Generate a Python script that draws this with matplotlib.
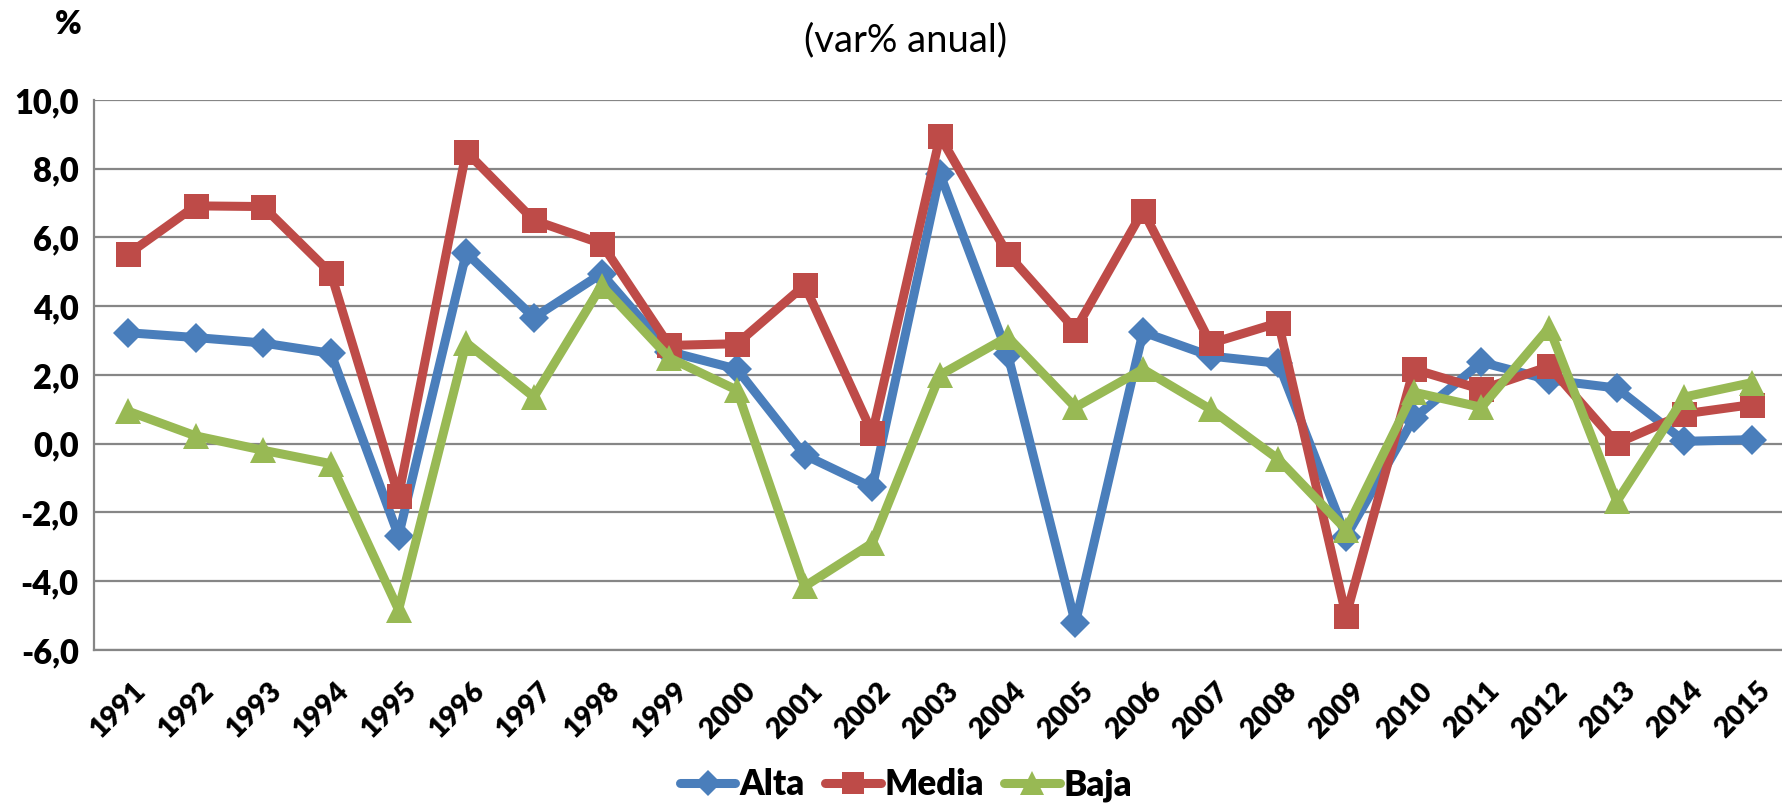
import matplotlib
matplotlib.use("Agg")
import matplotlib.pyplot as plt
import numpy as np

years = [str(y) for y in range(1991, 2016)]
alta = [3.23, 3.09, 2.93, 2.63, -2.68, 5.55, 3.67, 4.95, 2.68, 2.17, -0.33, -1.27,
        7.85, 2.61, -5.22, 3.25, 2.55, 2.34, -2.70, 0.74, 2.37, 1.86, 1.62, 0.07, 0.12]
media = [5.51, 6.92, 6.90, 4.96, -1.52, 8.50, 6.50, 5.82, 2.86, 2.91, 4.61, 0.31,
         8.94, 5.52, 3.31, 6.78, 2.92, 3.52, -5.00, 2.17, 1.58, 2.25, 0.01, 0.87, 1.14]
baja = [0.95, 0.23, -0.19, -0.58, -4.83, 2.94, 1.36, 4.60, 2.50, 1.56, -4.15, -2.89,
        2.00, 3.11, 1.06, 2.17, 1.00, -0.45, -2.50, 1.50, 1.06, 3.38, -1.68, 1.36, 1.78]
series_names = ["Alta", "Media", "Baja"]
yticks = [-6, -4, -2, 0, 2, 4, 6, 8, 10]

colors = ["#4A7EBB", "#BE4B48", "#98B954"]
markers = ["D", "s", "^"]
msizes = [15, 18, 19]

plt.rcParams['font.family'] = ['Lato', 'DejaVu Sans']

fig = plt.figure(figsize=(17.83, 8.05), dpi=100)
ax = fig.add_axes([94/1783, 155/805, 1692/1783, 550/805])

x = np.arange(len(years))
for vals, c, m, ms, name in zip([alta, media, baja], colors, markers, msizes, series_names):
    ax.plot(x, vals, color=c, lw=6.5, marker=m, markersize=ms, markeredgewidth=0,
            label=name, solid_joinstyle='round', solid_capstyle='round', zorder=3)

ax.set_xlim(-0.5, len(years) - 0.5)
ax.set_ylim(-6, 10)
ax.set_yticks(yticks)
ax.set_yticklabels([f"{v:.1f}".replace(".", ",") for v in yticks],
                   fontsize=23.5, fontweight='heavy')
ax.set_xticks(x)
ax.set_xticklabels(years, fontsize=20.5, fontweight='heavy', rotation=45,
                   ha='right', va='top', rotation_mode='anchor')
ax.tick_params(axis='both', length=0)
ax.tick_params(axis='y', pad=11)
ax.tick_params(axis='x', pad=20)
for lbl in ax.get_xticklabels():
    lbl.set_transform(lbl.get_transform() + matplotlib.transforms.ScaledTranslation(5/100, 0, fig.dpi_scale_trans))

ax.grid(axis='y', color='#868686', lw=1.6, zorder=0)
ax.set_axisbelow(True)
for s in ['top', 'right']:
    ax.spines[s].set_visible(False)
for s in ['left', 'bottom']:
    ax.spines[s].set_color('#868686')
    ax.spines[s].set_linewidth(1.6)

fig.text(68/1783, 1 - 25/805, "%", fontsize=23, fontweight='heavy', ha='center', va='center')
fig.text(906/1783, 1 - 40/805, "(var% anual)", fontsize=27.5, ha='center', va='center')

leg = fig.legend(loc='center', bbox_to_anchor=(906/1783, 1 - 785/805), ncol=3, frameon=False,
                 prop={'size': 25, 'weight': 'heavy'}, handlelength=1.6, handletextpad=0.1,
                 columnspacing=0.6, markerscale=0.9)

fig.savefig("out.png", dpi=100)
